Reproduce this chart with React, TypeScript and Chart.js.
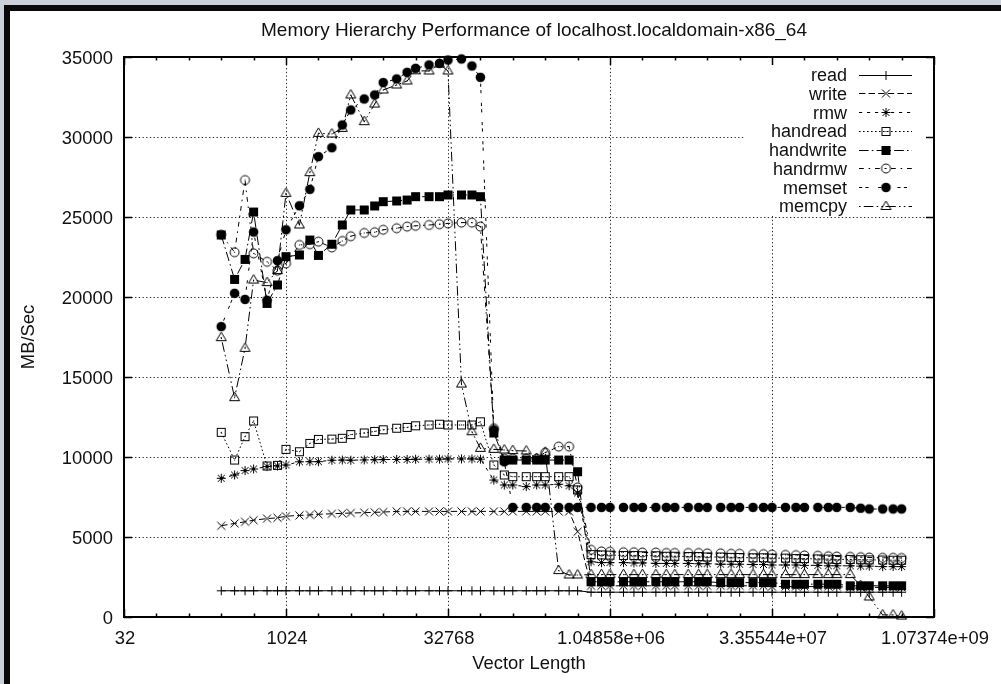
import React, { useEffect, useRef } from 'react';
import { Chart, registerables } from 'chart.js';

Chart.register(...registerables);

// ---------------- data ----------------
const vectorLength = [
  256, 341, 426, 512, 682, 853, 1024, 1365, 1706, 2048, 2730, 3413, 4096, 5461, 6826, 8192,
  10922, 13653, 16384, 21845, 27306, 32768, 43690, 54613, 65536, 87381, 109226, 131072,
  174762, 218453, 262144, 349525, 436906, 524288, 699050, 873813, 1048576, 1398101, 1747626,
  2097152, 2796202, 3495253, 4194304, 5592405, 6990506, 8388608, 11184810, 13981013, 16777216,
  22369621, 27962026, 33554432, 44739242, 55924053, 67108864, 89478485, 111848106, 134217728,
  178956970, 223696213, 268435456, 357913941, 447392426, 536870912,
];

const readMBs = [
  1640, 1640, 1640, 1640, 1640, 1640, 1640, 1640, 1640, 1640,
  1640, 1640, 1640, 1640, 1640, 1640, 1640, 1640, 1640, 1640,
  1640, 1640, 1640, 1640, 1640, 1640, 1640, 1640, 1640, 1640,
  1640, 1640, 1640, 1640, 1550, 1550, 1550, 1550, 1550, 1550,
  1550, 1550, 1550, 1550, 1550, 1550, 1550, 1550, 1550, 1550,
  1550, 1550, 1550, 1550, 1550, 1550, 1550, 1550, 1550, 1550,
  1550, 1550, 1550, 1550,
];

const writeMBs = [
  5700, 5850, 5950, 6050, 6150, 6200, 6300, 6350, 6380, 6420,
  6450, 6480, 6500, 6520, 6540, 6560, 6600, 6600, 6600, 6600,
  6600, 6600, 6600, 6600, 6600, 6600, 6600, 6600, 6600, 6600,
  6600, 6600, 6600, 5330, 1950, 1950, 1950, 1950, 1950, 1950,
  1950, 1950, 1950, 1950, 1950, 1950, 1950, 1950, 1950, 1950,
  1950, 1900, 1900, 1900, 1900, 1900, 1900, 1900, 1850, 1850,
  1850, 1850, 1850, 1850,
];

const rmwMBs = [
  8670, 8875, 9150, 9250, 9400, 9440, 9500, 9700, 9710, 9710,
  9800, 9810, 9800, 9820, 9830, 9840, 9850, 9850, 9860, 9870,
  9870, 9880, 9880, 9880, 9870, 8560, 8250, 8250, 8150, 8250,
  8250, 8300, 8200, 7750, 3450, 3400, 3400, 3400, 3380, 3380,
  3350, 3350, 3350, 3350, 3330, 3330, 3300, 3300, 3300, 3280,
  3280, 3250, 3250, 3250, 3230, 3230, 3200, 3200, 3200, 3180,
  3180, 3150, 3150, 3150,
];

const handreadMBs = [
  11540, 9810, 11270, 12250, 9440, 9480, 10480, 10330, 10850, 11100,
  11120, 11170, 11400, 11500, 11600, 11700, 11800, 11850, 11950, 12000,
  12050, 12000, 12000, 12000, 12200, 9500, 8875, 8770, 8770, 8770,
  8770, 8770, 8770, 7940, 3900, 3880, 3870, 3850, 3850, 3830,
  3830, 3800, 3800, 3780, 3780, 3750, 3750, 3730, 3720, 3700,
  3700, 3680, 3680, 3650, 3650, 3630, 3620, 3600, 3600, 3580,
  3570, 3560, 3550, 3550,
];

const handwriteMBs = [
  23875, 21100, 22350, 25310, 19600, 20750, 22520, 22625, 23560, 22600,
  23300, 24500, 25440, 25440, 25690, 25960, 26000, 26060, 26270, 26270,
  26270, 26375, 26375, 26375, 26270, 11500, 9810, 9810, 9810, 9810,
  9810, 9810, 9810, 9080, 2200, 2200, 2200, 2200, 2200, 2200,
  2200, 2200, 2200, 2200, 2200, 2200, 2150, 2150, 2150, 2150,
  2150, 2150, 2050, 2050, 2050, 2050, 2050, 2050, 1950, 1950,
  1950, 1950, 1950, 1950,
];

const handrmwMBs = [
  23900, 22800, 27310, 22730, 22200, 21650, 22100, 23250, 23300, 23460,
  23100, 23500, 23800, 24000, 24050, 24200, 24300, 24400, 24450, 24500,
  24550, 24600, 24650, 24650, 24400, 11800, 9900, 9900, 9900, 9900,
  10270, 10650, 10650, 8100, 4200, 4100, 4080, 4050, 4050, 4030,
  4030, 4000, 4000, 4000, 4000, 3980, 3980, 3950, 3950, 3930,
  3930, 3900, 3880, 3870, 3850, 3830, 3800, 3780, 3760, 3740,
  3720, 3700, 3700, 3690,
];

const memsetMBs = [
  18150, 20230, 19850, 24060, 19800, 22270, 24200, 25700, 26730, 28770,
  29330, 30750, 31690, 32375, 32625, 33400, 33625, 34040, 34290, 34500,
  34600, 34810, 34875, 34440, 33730, 11700, 9700, 6850, 6850, 6850,
  6850, 6850, 6850, 6850, 6850, 6850, 6850, 6850, 6850, 6850,
  6850, 6850, 6850, 6850, 6850, 6850, 6850, 6850, 6850, 6850,
  6850, 6850, 6850, 6850, 6850, 6850, 6850, 6850, 6850, 6800,
  6750, 6750, 6750, 6750,
];

const memcpyMBs = [
  17460, 13710, 16790, 21060, 20900, 21650, 26480, 24500, 27770, 30230,
  30190, 30540, 32625, 30960, 32060, 32940, 33250, 33500, 34140, 34125,
  34560, 34125, 14560, 11580, 10540, 10480, 10440, 10400, 10375, 9900,
  10300, 2900, 2625, 2625, 2650, 2650, 2650, 2650, 2650, 2650,
  2650, 2650, 2650, 2650, 2650, 2650, 2650, 2650, 2650, 2650,
  2650, 2650, 2650, 2650, 2650, 2650, 2650, 2650, 2650, 1960,
  1250, 130, 130, 60,
];

const seriesNames = ['read', 'write', 'rmw', 'handread', 'handwrite', 'handrmw', 'memset', 'memcpy'];
const seriesValues = [readMBs, writeMBs, rmwMBs, handreadMBs, handwriteMBs, handrmwMBs, memsetMBs, memcpyMBs];

const yTickValues = [0, 5000, 10000, 15000, 20000, 25000, 30000, 35000];
const xTickValues = [32, 1024, 32768, 1048576, 33554432, 1073741824];
const xTickLabels = ['32', '1024', '32768', '1.04858e+06', '3.35544e+07', '1.07374e+09'];

const titleText = 'Memory Hierarchy Performance of localhost.localdomain-x86_64';
const xAxisTitle = 'Vector Length';
const yAxisTitle = 'MB/Sec';

// ---------------- styles ----------------
const markerKinds = ['plus', 'cross', 'star', 'box', 'fbox', 'circle', 'fcircle', 'triangle'];
const dashPatterns: number[][] = [
  [],
  [6.4, 3.2],
  [3.2, 4.8],
  [1.6, 2.4],
  [9.6, 3.2, 1.6, 3.2],
  [4.8, 4.8, 1.6, 4.8],
  [3.2, 3.2, 3.2, 9.6],
  [1.6, 3.2, 9.6, 3.2, 1.6, 3.2],
];
const FONT = '"Liberation Sans", Arial, Helvetica, sans-serif';

function makeMarker(kind: string): HTMLCanvasElement {
  const c = document.createElement('canvas');
  c.width = 15;
  c.height = 15;
  const g = c.getContext('2d')!;
  const m = 7.5;
  g.strokeStyle = '#000';
  g.fillStyle = '#000';
  g.lineWidth = 1;
  const dot = () => g.fillRect(7, 7, 1, 1);
  const plus = (r: number) => {
    g.moveTo(m - r, m); g.lineTo(m + r, m);
    g.moveTo(m, m - r); g.lineTo(m, m + r);
  };
  const cross = (r: number) => {
    g.moveTo(m - r, m - r); g.lineTo(m + r, m + r);
    g.moveTo(m + r, m - r); g.lineTo(m - r, m + r);
  };
  g.beginPath();
  switch (kind) {
    case 'plus': plus(4.5); g.stroke(); break;
    case 'cross': cross(4); g.stroke(); break;
    case 'star': plus(4.5); cross(3.5); g.stroke(); break;
    case 'box': g.strokeRect(3.5, 3.5, 8, 8); dot(); break;
    case 'fbox': g.fillRect(3, 3, 9, 9); break;
    case 'circle': g.arc(m, m, 4.5, 0, Math.PI * 2); g.stroke(); dot(); break;
    case 'fcircle': g.arc(m, m, 4.8, 0, Math.PI * 2); g.fill(); break;
    case 'triangle':
      g.moveTo(m, m - 5.5); g.lineTo(m + 5, m + 3); g.lineTo(m - 5, m + 3); g.closePath();
      g.stroke(); dot(); break;
  }
  return c;
}

function makeFramePlugin(markers: HTMLCanvasElement[]) {
  return {
    id: 'gnuplotFrame',
    beforeDatasetsDraw(chart: any) {
      const { ctx, chartArea: a, scales } = chart;
      const x = scales.x, y = scales.y;
      ctx.save();
      ctx.strokeStyle = 'rgba(0,0,0,0.85)';
      ctx.lineWidth = 1;
      ctx.setLineDash([1.3, 2.4]);
      ctx.beginPath();
      for (const v of yTickValues.slice(1, -1)) {
        const py = Math.round(y.getPixelForValue(v)) + 0.5;
        ctx.moveTo(a.left, py); ctx.lineTo(a.right, py);
      }
      for (const v of xTickValues.slice(1, -1)) {
        const px = Math.round(x.getPixelForValue(v)) + 0.5;
        ctx.moveTo(px, a.top); ctx.lineTo(px, a.bottom);
      }
      ctx.stroke();
      ctx.setLineDash([]);
      // key background (blanks the grid behind the key)
      ctx.fillStyle = '#fff';
      ctx.fillRect(a.right - 189, a.top + 1, 188, 158);
      ctx.restore();
    },
    afterDatasetsDraw(chart: any) {
      const { ctx, chartArea: a, scales } = chart;
      const x = scales.x, y = scales.y;
      ctx.save();
      // border
      ctx.strokeStyle = '#000';
      ctx.lineWidth = 2;
      ctx.strokeRect(a.left, a.top, a.right - a.left, a.bottom - a.top);
      // ticks
      ctx.lineWidth = 1.5;
      ctx.beginPath();
      for (const v of yTickValues) {
        const py = Math.round(y.getPixelForValue(v)) + 0.5;
        ctx.moveTo(a.left, py); ctx.lineTo(a.left + 8, py);
        ctx.moveTo(a.right, py); ctx.lineTo(a.right - 8, py);
      }
      for (let e = 5; e <= 30; e++) {
        const v = Math.pow(2, e);
        const major = e % 5 === 0;
        const len = major ? 8 : 3.5;
        const px = Math.round(x.getPixelForValue(v)) + 0.5;
        ctx.moveTo(px, a.bottom); ctx.lineTo(px, a.bottom - len);
        ctx.moveTo(px, a.top); ctx.lineTo(px, a.top + len);
      }
      ctx.stroke();

      // tick labels
      ctx.fillStyle = '#111';
      ctx.font = `18.4px ${FONT}`;
      ctx.textBaseline = 'alphabetic';
      ctx.textAlign = 'right';
      for (const v of yTickValues) {
        const py = y.getPixelForValue(v);
        ctx.fillText(String(v), a.left - 11, py + 6.6);
      }
      ctx.textAlign = 'center';
      xTickValues.forEach((v, i) => {
        const px = x.getPixelForValue(v);
        ctx.fillText(xTickLabels[i], px + 1, a.bottom + 26.5);
      });

      // titles
      ctx.font = `19px ${FONT}`;
      ctx.fillText(titleText, 534, 36);
      ctx.font = `18.4px ${FONT}`;
      ctx.fillText(xAxisTitle, (a.left + a.right) / 2, 669);
      ctx.save();
      ctx.translate(27.5, (a.top + a.bottom) / 2);
      ctx.rotate(-Math.PI / 2);
      ctx.fillText(yAxisTitle, 0, 6.5);
      ctx.restore();

      // key
      ctx.font = `18px ${FONT}`;
      ctx.textAlign = 'right';
      seriesNames.forEach((name, i) => {
        const yc = 74.5 + 18.75 * i;
        ctx.fillStyle = '#111';
        ctx.fillText(name, 847, yc + 6.5);
        const ly = Math.round(yc) + 0.5;
        ctx.strokeStyle = '#000';
        ctx.lineWidth = 1;
        ctx.setLineDash(dashPatterns[i]);
        ctx.beginPath();
        ctx.moveTo(859, ly); ctx.lineTo(912, ly);
        ctx.stroke();
        ctx.setLineDash([]);
        const mk = markers[i];
        ctx.drawImage(mk, 886 - mk.width / 2, ly - 0.5 - mk.height / 2 + 0.5);
      });
      ctx.restore();
    },
  };
}

export default function App() {
  const ref = useRef<HTMLCanvasElement>(null);

  useEffect(() => {
    const canvas = ref.current;
    if (!canvas) return;
    const markers = markerKinds.map(makeMarker);
    const datasets = seriesNames.map((name, i) => ({
      label: name,
      data: vectorLength.map((xv, j) => ({ x: xv, y: seriesValues[i][j] })),
      borderColor: '#000',
      backgroundColor: '#000',
      borderWidth: 1,
      borderDash: dashPatterns[i],
      pointStyle: markers[i],
      pointRadius: 5,
      pointHoverRadius: 5,
      fill: false,
      tension: 0,
      clip: false,
      order: 7 - i,
    }));
    const chart = new Chart(canvas, {
      type: 'line',
      data: { datasets } as any,
      options: {
        responsive: false,
        animation: false,
        devicePixelRatio: 1,
        events: [],
        layout: { padding: { left: 124, right: 67, top: 57, bottom: 67 } },
        scales: {
          x: { type: 'logarithmic', min: 32, max: 1073741824, display: false },
          y: { type: 'linear', min: 0, max: 35000, display: false },
        },
        plugins: {
          legend: { display: false },
          title: { display: false },
          tooltip: { enabled: false },
        },
      } as any,
      plugins: [makeFramePlugin(markers)],
    });
    return () => chart.destroy();
  }, []);

  return (
    <div
      style={{
        position: 'fixed',
        left: 0,
        top: 0,
        width: 1001,
        height: 684,
        overflow: 'hidden',
        background: '#cbd1d8',
      }}
    >
      <div
        style={{
          position: 'absolute',
          left: 4,
          top: 5,
          right: 0,
          bottom: 0,
          background: '#fff',
          borderLeft: '6px solid #0a0a0a',
          borderTop: '6px solid #0a0a0a',
        }}
      />
      <canvas
        ref={ref}
        width={1001}
        height={684}
        style={{ position: 'absolute', left: 0, top: 0, display: 'block' }}
      />
    </div>
  );
}
